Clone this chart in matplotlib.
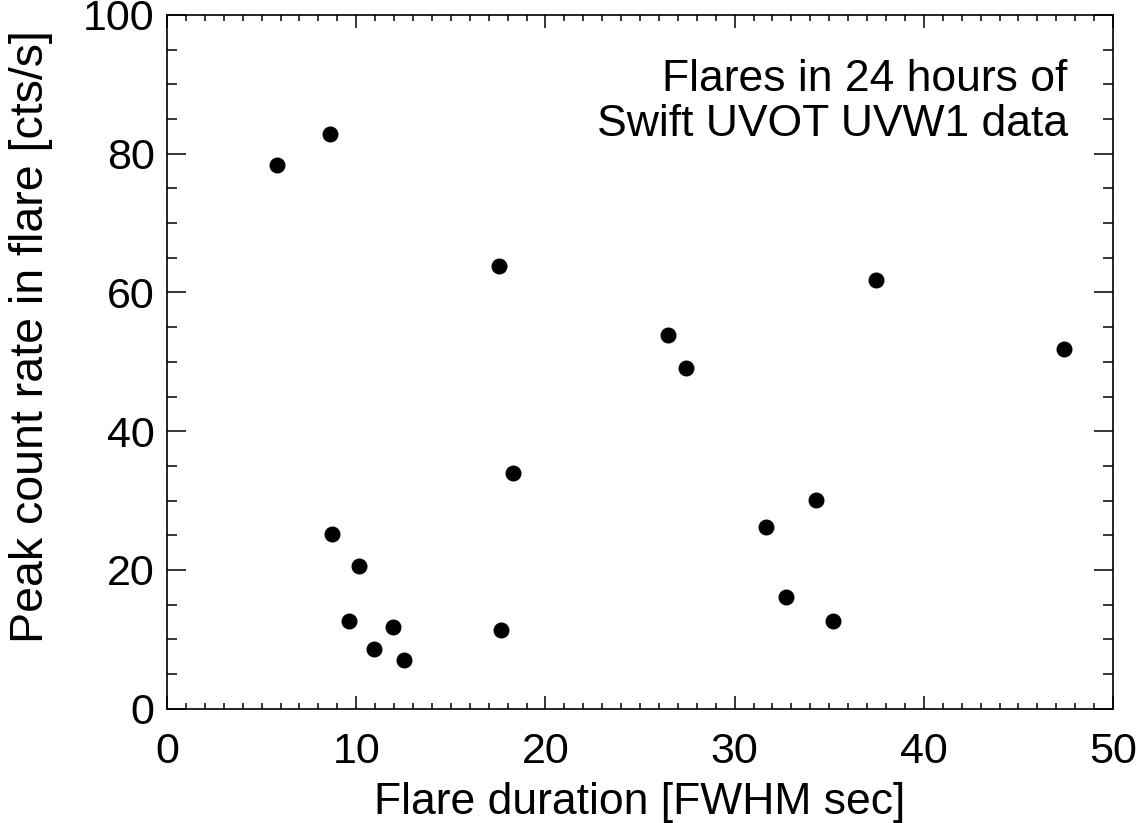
import matplotlib
matplotlib.use("Agg")
import matplotlib.pyplot as plt
from matplotlib.ticker import MultipleLocator

plt.rcParams['font.family'] = ['Liberation Sans', 'DejaVu Sans']

# flare duration (FWHM sec) and peak count rate (cts/s)
duration = [5.8, 8.6, 17.55, 26.5, 27.45, 37.45, 47.4, 18.3, 8.7, 10.15,
            9.6, 10.95, 11.95, 12.5, 17.65, 31.65, 34.3, 32.7, 35.2]
peak_rate = [78.4, 82.8, 63.8, 53.9, 49.1, 61.8, 51.9, 34.0, 25.2, 20.6,
             12.6, 8.6, 11.8, 7.0, 11.3, 26.2, 30.1, 16.1, 12.6]

fig = plt.figure(figsize=(11.45, 8.23), dpi=100)
ax = fig.add_axes([0.1459, 0.1389, 0.8262, 0.8429])

ax.plot(duration, peak_rate, 'o', color='black', markersize=10.5)

ax.set_xlim(0, 50)
ax.set_ylim(0, 100)
ax.xaxis.set_major_locator(MultipleLocator(10))
ax.xaxis.set_minor_locator(MultipleLocator(1))
ax.yaxis.set_major_locator(MultipleLocator(20))
ax.yaxis.set_minor_locator(MultipleLocator(5))

ax.tick_params(direction='in', top=True, right=True, which='both',
               labelsize=31, width=1.1, colors='black')
ax.tick_params(axis='x', which='major', length=9.5, pad=17)
ax.tick_params(axis='x', which='minor', length=4.5)
ax.tick_params(axis='y', which='major', length=14, pad=9)
ax.tick_params(axis='y', which='minor', length=7.5)
for s in ax.spines.values():
    s.set_linewidth(1.2)

ax.set_xlabel('Flare duration [FWHM sec]', fontsize=32, labelpad=7)
ax.set_ylabel('Peak count rate in flare [cts/s]', fontsize=33.5)
ax.yaxis.set_label_coords(-0.121, 0.537)

ax.text(0.952, 0.937, 'Flares in 24 hours of\nSwift UVOT UVW1 data',
        transform=ax.transAxes, ha='right', va='top', multialignment='right',
        fontsize=32, linespacing=1.12)

fig.savefig('out.png', dpi=100)
